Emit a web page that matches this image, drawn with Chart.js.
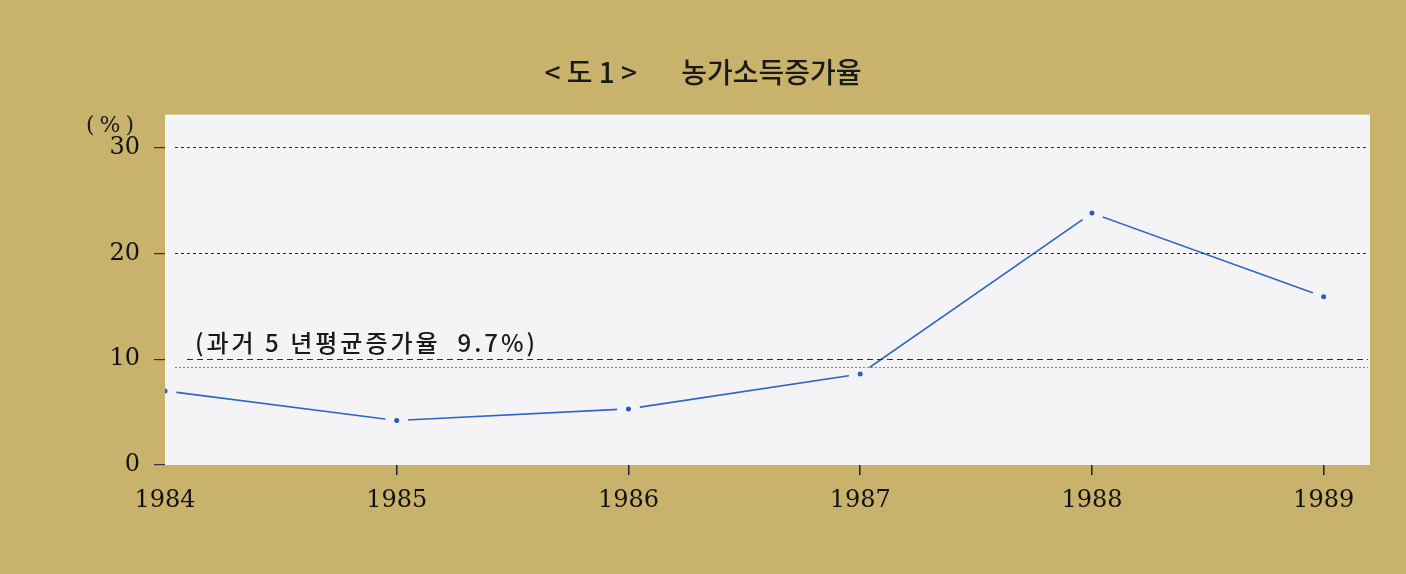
<!DOCTYPE html>
<html>
<head>
<meta charset="utf-8">
<script src="https://cdn.jsdelivr.net/npm/chart.js"></script>
<style>
  body { margin: 0; background: #c8b26c; }
  canvas { display: block; }
</style>
</head>
<body>
<canvas id="income" width="1406" height="574"></canvas>
<script>
// Data
var years = [1984, 1985, 1986, 1987, 1988, 1989];
var growth = [7.0, 4.2, 5.3, 8.6, 23.8, 15.9];
var yTicks = [0, 10, 20, 30];
var gridValues = [10, 20, 30];
var averageValue = 9.3;
var averageLabel = '(과거 5 년평균증가율  9.7%)';
var titleText = '< 도 1 >       농가소득증가율';

var tan = '#c8b26c';
var paper = '#f4f3f6';
var serif = "'DejaVu Serif', 'Liberation Serif', serif";
var korean = "'Noto Sans CJK KR', 'Noto Sans', sans-serif";

// Plugins: backgrounds, dashed guides, annotation text
var paperPlugin = {
    id: 'paper',
    beforeDraw: function (chart) {
        var c = chart.ctx, a = chart.chartArea;
        c.save();
        c.fillStyle = tan;
        c.fillRect(0, 0, chart.width, chart.height);
        c.fillStyle = paper;
        c.fillRect(a.left, a.top, a.right - a.left, a.bottom - a.top);
        c.restore();
    },
    afterDatasetsDraw: function (chart) {
        var c = chart.ctx, a = chart.chartArea, y = chart.scales.y;
        c.save();
        c.lineWidth = 1;
        gridValues.forEach(function (v) {
            var py = Math.round(y.getPixelForValue(v)) + 0.5;
            c.strokeStyle = '#2a2a2a';
            c.setLineDash(v === 10 ? [6, 4] : [3, 3]);
            c.beginPath();
            c.moveTo(a.left + (v === 10 ? 22 : 10), py);
            c.lineTo(a.right - 2, py);
            c.stroke();
        });
        var ay = Math.round(y.getPixelForValue(averageValue)) + 0.5;
        c.strokeStyle = '#e0566a';
        c.setLineDash([2, 2]);
        c.beginPath();
        c.moveTo(a.left + 10, ay);
        c.lineTo(a.right - 2, ay);
        c.stroke();
        c.setLineDash([]);

        // annotation
        c.fillStyle = '#1a1a1a';
        c.font = '500 24px ' + korean;
        c.letterSpacing = '3px';
        c.textAlign = 'left';
        c.textBaseline = 'middle';
        c.fillText(averageLabel, a.left + 30, y.getPixelForValue(11.5));

        // unit label
        c.font = '22px ' + serif;
        c.letterSpacing = '5px';
        c.fillText('(%)', 86, y.getPixelForValue(30) - 21);
        c.restore();
    }
};

var chart = new Chart(document.getElementById('income'), {
    type: 'line',
    data: {
        datasets: [{
            data: years.map(function (yr, i) { return { x: yr, y: growth[i] }; }),
            borderColor: '#2e66c6',
            borderWidth: 1.6,
            pointRadius: 7,
            pointBorderWidth: 9,
            pointBackgroundColor: '#2a5cb8',
            pointBorderColor: paper,
            tension: 0,
            clip: 0
        }]
    },
    plugins: [paperPlugin],
    options: {
        responsive: false,
        animation: false,
        layout: { padding: { top: 56, right: 36, bottom: 64, left: 36 } },
        plugins: {
            legend: { display: false },
            tooltip: { enabled: false },
            title: {
                display: true,
                text: titleText,
                color: '#1a1a1a',
                font: { family: korean, size: 28, weight: '500', lineHeight: 1.2 },
                padding: { top: 0, bottom: 25 }
            }
        },
        scales: {
            x: {
                type: 'linear',
                min: 1984,
                max: 1989.2,
                afterBuildTicks: function (s) {
                    s.ticks = years.map(function (v) { return { value: v }; });
                },
                afterFit: function (s) { s.height = 45; },
                border: { display: false },
                grid: {
                    drawOnChartArea: false,
                    tickLength: 10,
                    lineWidth: 1.5,
                    color: function (ctx) {
                        return ctx.tick && ctx.tick.value === years[0] ? 'rgba(0,0,0,0)' : '#222';
                    }
                },
                ticks: {
                    color: '#111',
                    padding: 11,
                    maxRotation: 0,
                    font: { family: serif, size: 24 },
                    callback: function (v) { return String(v); }
                }
            },
            y: {
                min: 0,
                max: 33.1,
                afterBuildTicks: function (s) {
                    s.ticks = yTicks.map(function (v) { return { value: v }; });
                },
                afterFit: function (s) { s.width = 129; },
                border: { display: false },
                grid: {
                    drawOnChartArea: false,
                    tickLength: 11,
                    lineWidth: 1.2,
                    color: '#333'
                },
                ticks: {
                    color: '#111',
                    padding: 14,
                    font: { family: serif, size: 24 }
                }
            }
        }
    }
});
</script>
</body>
</html>
